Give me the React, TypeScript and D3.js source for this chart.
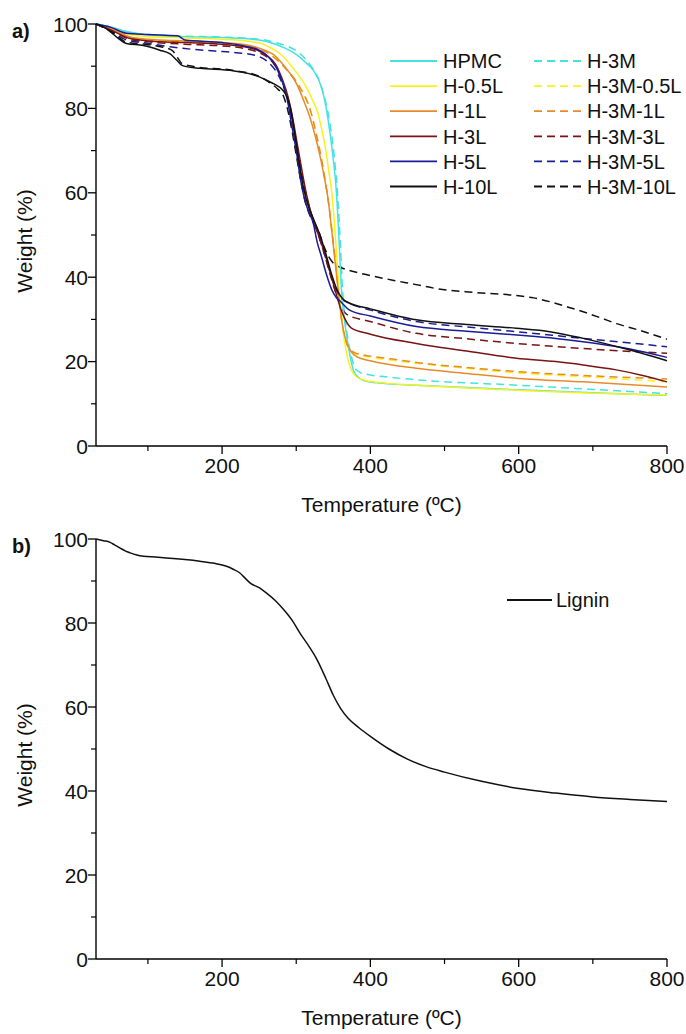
import React from "react";
import * as d3 from "d3";

// ---------- data (temperature °C, weight %) ----------
const xTicksMajor = [200, 400, 600, 800];
const xTicksMinor = [100, 300, 500, 700];
const yTicksMajor = [0, 20, 40, 60, 80, 100];
const yTicksMinor = [10, 30, 50, 70, 90];

const hpmc: [number, number][] = [[30,100],[50,99.3],[75,98.1],[100,97.4],[150,97.0],[200,96.8],[250,96.2],[269,95.4],[285,94.3],[300,92.8],[312,91],[323,89],[334,85],[340,80.5],[343,77.3],[349,69.4],[354.5,59.5],[358,48],[361,37],[365,30],[369,25],[373,21],[377,18],[383,16.4],[390,15.6],[413,14.9],[462,14.4],[600,13.3],[700,12.6],[800,12]];
const h05L: [number, number][] = [[30,100],[50,98.9],[75,97.5],[100,97],[150,96.7],[200,96.4],[250,95.5],[265,94.4],[278,93],[296,89.5],[312,85.5],[322,82],[329,79],[335,74.5],[340,70],[344,65],[348,60],[351,54],[353.5,48],[357,39],[361,31],[365,25],[369,21],[374,18.2],[381,16.4],[392,15.6],[420,14.9],[462,14.4],[600,13.2],[700,12.5],[800,12.1]];
const h1L: [number, number][] = [[30,100],[50,98.8],[75,97],[100,96.4],[150,96],[200,95.6],[240,94.8],[260,93.6],[269,92.8],[285,89.8],[300,86],[312,81],[320,77],[327,72.5],[333,68],[338,63.5],[343,58.5],[347,52.5],[351,46],[355,39.5],[359,33],[363,28],[368,24.5],[374,22.4],[382,21.1],[400,20.2],[462,18.4],[530,17.2],[600,16],[687,15.2],[800,14]];
const h3L: [number, number][] = [[30,100],[50,98.6],[75,96.6],[100,96],[150,95.6],[200,95.2],[230,94.6],[250,93.6],[262,92.3],[272,90.5],[281,87],[290,82],[296,77],[302,71],[308,65],[314,59.5],[322,54],[330,50],[338,46],[346,41],[354,36],[360,32.5],[366,30],[374,28],[400,26.5],[462,24.3],[530,22.5],[597,20.8],[650,20],[687,19.2],[730,18.1],[770,16.6],[800,15.2]];
const h5L: [number, number][] = [[30,100],[50,99.2],[71,97.8],[100,97.5],[140,97.2],[150,96.2],[200,95.6],[230,94.8],[250,93.8],[262,92.3],[272,90],[280,87],[288,82],[294,76],[300,70],[306,63],[312,58],[318,55],[323,52.8],[328,48.5],[334,44.9],[341,40.5],[348,37],[354,35.2],[360,34.2],[372,32.2],[400,30.8],[462,28.3],[530,27.2],[597,26.3],[650,25.5],[700,24.4],[750,23],[800,21]];
const h10L: [number, number][] = [[30,100],[40,99.3],[49,98.2],[60,96.6],[71,95.4],[94,94.9],[116,93.8],[130,92.9],[139,91.4],[146,90.2],[152,89.9],[170,89.5],[215,88.9],[235,88.3],[251,87.4],[262,86.5],[270,85.8],[282,84.3],[288,82.5],[293,79.5],[298,74],[304,67],[310,61],[316,57],[324,53.5],[332,50],[340,45.5],[348,40.5],[355,37],[362,35],[370,34],[400,32.5],[462,29.9],[530,28.8],[597,27.9],[642,27.1],[687,25.5],[740,23.2],[800,20.2]];
const h3M: [number, number][] = [[30,100],[50,99.2],[75,98],[100,97.5],[150,97.1],[200,96.9],[250,96.4],[272,95.6],[290,94.6],[305,93],[318,90.5],[330,87],[339,82],[345,77],[351,69],[356,59],[359.5,48],[362.5,37],[366,30],[370,25],[374,21.5],[378,19],[384,17.6],[395,17],[420,16.4],[462,15.7],[600,14.4],[700,13.4],[800,12.4]];
const h3M05L: [number, number][] = [[30,100],[50,98.7],[75,96.9],[100,96.3],[150,95.9],[200,95.5],[240,94.7],[260,93.4],[275,91.5],[290,88.5],[306,84.5],[320,79],[328,73],[334,68],[340,62],[345,56],[349,50],[353,44],[356,39],[359,34],[362,29],[366,25.5],[371,23],[380,21.8],[400,21],[430,20.3],[462,19.6],[530,18.4],[600,17.3],[700,16.3],[800,15.2]];
const h3M1L: [number, number][] = [[30,100],[50,98.6],[75,96.8],[100,96.2],[150,95.8],[200,95.4],[240,94.6],[260,93.3],[272,91.8],[288,89],[305,85],[320,79],[327,74],[333,69],[339,63],[344,57],[348,51],[352,45],[355,40],[358,35],[361,30],[365,26],[370,23.5],[378,22.2],[400,21.3],[430,20.6],[462,19.8],[530,18.6],[600,17.6],[700,16.6],[800,15.9]];
const h3M3L: [number, number][] = [[30,100],[50,98.5],[75,96.4],[100,95.8],[150,95.2],[200,94.8],[230,94.2],[250,93.2],[262,92],[272,90],[281,86.5],[290,81.5],[296,76],[302,70],[308,64],[314,59],[322,54],[330,50],[338,45.5],[346,40.5],[353,36.5],[360,33.2],[368,31.2],[400,29.5],[462,26.7],[530,25.4],[597,24.3],[687,23.1],[740,22.5],[800,22]];
const h3M5L: [number, number][] = [[30,100],[50,98.3],[70,96.3],[100,95.4],[130,94.6],[160,94],[190,93.6],[220,93.2],[248,92.4],[262,91],[272,89],[281,86],[290,81],[296,76],[302,70],[308,64],[314,59],[322,54],[330,50],[338,45.5],[346,41],[353,37.5],[360,35],[372,33.8],[400,32.2],[462,29.5],[530,28.2],[597,27.1],[687,25.5],[740,24.6],[800,23.5]];
const h3M10L: [number, number][] = [[30,100],[40,99.2],[50,98.4],[60,96.9],[71,95.7],[100,95.1],[120,94.5],[133,93.7],[140,92],[146,90.6],[160,90],[215,89],[250,87.6],[265,86],[275,84.6],[283,82.8],[288,80],[294,75],[300,69],[306,63],[312,58],[320,54],[330,51],[338,47],[345,44.5],[352,43],[360,42.3],[372,41.6],[400,40.4],[430,39.3],[460,38.3],[489,37.3],[540,36.4],[588,35.8],[620,35.1],[642,34.2],[665,33],[687,31.8],[710,30.4],[732,29],[765,27.3],[800,25.3]];
const lignin: [number, number][] = [[30,100],[40,99.6],[49,99.2],[55,98.6],[62,97.9],[70,97.1],[76,96.7],[85,96.2],[94,95.9],[110,95.7],[125,95.5],[150,95.1],[170,94.7],[190,94.2],[206,93.5],[215,92.8],[224,91.9],[232,90.5],[238,89.5],[250,88.4],[260,87.1],[272,85.3],[283,83.2],[295,80.5],[305,77.6],[317,74.5],[328,71.3],[340,66.8],[350,62.8],[360,59.6],[370,57.3],[385,55],[400,53],[425,50],[450,47.6],[475,45.8],[500,44.5],[550,42.3],[600,40.6],[650,39.5],[700,38.6],[750,38],[800,37.5]];

const seriesNamesSolid = ["HPMC", "H-0.5L", "H-1L", "H-3L", "H-5L", "H-10L"];
const seriesNamesDashed = ["H-3M", "H-3M-0.5L", "H-3M-1L", "H-3M-3L", "H-3M-5L", "H-3M-10L"];
const seriesColors = ["#45e2e2", "#f7f21a", "#e88a2a", "#7a1414", "#1c1c96", "#111111"];
const solidData = [hpmc, h05L, h1L, h3L, h5L, h10L];
const dashedData = [h3M, h3M05L, h3M1L, h3M3L, h3M5L, h3M10L];

const FONT = "'Liberation Sans', Arial, sans-serif";

function Panel({ top, bottom, label, children }: { top: number; bottom: number; label: string; children: (x: any, y: any) => React.ReactNode }) {
  const x = d3.scaleLinear().domain([30, 800]).range([96, 667]);
  const y = d3.scaleLinear().domain([0, 100]).range([bottom, top]);
  const cx = (96 + 667) / 2;
  return (
    <g>
      {children(x, y)}
      {/* axes */}
      <line x1={x(30)} x2={x(30)} y1={y(0)} y2={y(100)} stroke="#000" strokeWidth={1.4} />
      <line x1={x(30)} x2={x(800)} y1={y(0)} y2={y(0)} stroke="#000" strokeWidth={1.4} />
      {yTicksMajor.map((t) => (
        <g key={"ym" + t}>
          <line x1={x(30) - 8} x2={x(30)} y1={y(t)} y2={y(t)} stroke="#000" strokeWidth={1.3} />
          <text x={x(30) - 8} y={y(t)} dy="0.36em" textAnchor="end" fontSize={21} fontFamily={FONT} fill="#111">{t}</text>
        </g>
      ))}
      {yTicksMinor.map((t) => (
        <line key={"yn" + t} x1={x(30) - 5} x2={x(30)} y1={y(t)} y2={y(t)} stroke="#000" strokeWidth={1.2} />
      ))}
      {xTicksMajor.map((t) => (
        <g key={"xm" + t}>
          <line x1={x(t)} x2={x(t)} y1={y(0)} y2={y(0) + 8} stroke="#000" strokeWidth={1.3} />
          <text x={x(t)} y={y(0) + 27} textAnchor="middle" fontSize={21} fontFamily={FONT} fill="#111">{t}</text>
        </g>
      ))}
      {xTicksMinor.map((t) => (
        <line key={"xn" + t} x1={x(t)} x2={x(t)} y1={y(0)} y2={y(0) + 5} stroke="#000" strokeWidth={1.2} />
      ))}
      <text x={cx} y={y(0) + 66} textAnchor="middle" fontSize={21} fontFamily={FONT} fill="#111">Temperature (ºC)</text>
      <text transform={`translate(32,${(top + bottom) / 2 + 6}) rotate(-90)`} textAnchor="middle" fontSize={21} fontFamily={FONT} fill="#111">Weight (%)</text>
      <text x={12} y={top + 14} fontSize={20} fontWeight="bold" fontFamily={FONT} fill="#111">{label}</text>
    </g>
  );
}

export default function App() {
  const line = (x: any, y: any) =>
    d3.line<[number, number]>().x((d) => x(d[0])).y((d) => y(d[1])).curve(d3.curveMonotoneX);

  return (
    <svg width={686} height={1034} style={{ position: "absolute", left: 0, top: 0, background: "#fff" }}>
      <rect width={686} height={1034} fill="#fff" />
      <Panel top={24} bottom={446} label="a)">
        {(x, y) => {
          const l = line(x, y);
          return (
            <g fill="none" strokeWidth={1.5}>
              {dashedData.map((d, i) => (
                <path key={"d" + i} d={l(d) || ""} stroke={seriesColors[i]} strokeDasharray="8,5" />
              ))}
              {solidData.map((d, i) => (
                <path key={"s" + i} d={l(d) || ""} stroke={seriesColors[i]} />
              ))}
              {seriesNamesSolid.map((n, i) => (
                <g key={"ls" + i}>
                  <line x1={390} x2={437} y1={61 + i * 25.1} y2={61 + i * 25.1} stroke={seriesColors[i]} strokeWidth={1.8} />
                  <text x={443} y={61 + i * 25.1} dy="0.36em" fontSize={20} fontFamily={FONT} fill="#111">{n}</text>
                </g>
              ))}
              {seriesNamesDashed.map((n, i) => (
                <g key={"ld" + i}>
                  <line x1={534} x2={582} y1={61 + i * 25.1} y2={61 + i * 25.1} stroke={seriesColors[i]} strokeWidth={1.8} strokeDasharray="8,5" />
                  <text x={587} y={61 + i * 25.1} dy="0.36em" fontSize={20} fontFamily={FONT} fill="#111">{n}</text>
                </g>
              ))}
            </g>
          );
        }}
      </Panel>
      <Panel top={539} bottom={959} label="b)">
        {(x, y) => {
          const l = line(x, y);
          return (
            <g fill="none">
              <path d={l(lignin) || ""} stroke="#111" strokeWidth={1.5} />
              <line x1={507} x2={552} y1={600} y2={600} stroke="#111" strokeWidth={1.8} />
              <text x={556} y={600} dy="0.36em" fontSize={20} fontFamily={FONT} fill="#111">Lignin</text>
            </g>
          );
        }}
      </Panel>
    </svg>
  );
}
